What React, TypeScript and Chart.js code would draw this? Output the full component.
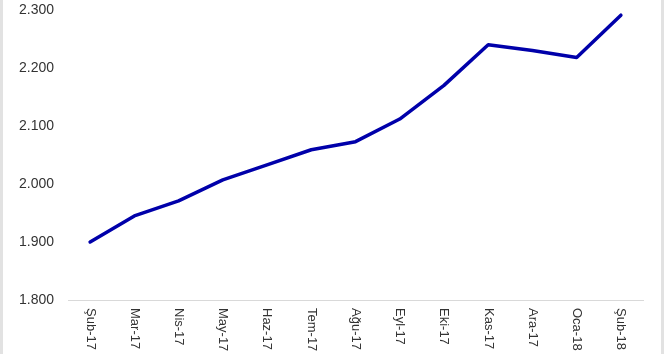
import React, { useEffect, useRef } from "react";
import { Chart, registerables } from "chart.js";

Chart.register(...registerables);

const categories = [
  "Şub-17", "Mar-17", "Nis-17", "May-17", "Haz-17", "Tem-17", "Ağu-17",
  "Eyl-17", "Eki-17", "Kas-17", "Ara-17", "Oca-18", "Şub-18",
];
const values = [1900, 1945, 1971, 2007, 2033, 2059, 2073, 2112, 2170, 2240, 2230, 2218, 2291];
const yMin = 1800;
const yMax = 2300;
const yStep = 100;

function fmt(v: number): string {
  const s = Math.round(v).toString();
  return s.replace(/\B(?=(\d{3})+(?!\d))/g, ".");
}

export default function App() {
  const ref = useRef<HTMLCanvasElement | null>(null);
  useEffect(() => {
    if (!ref.current) return;
    const framePlugin = {
      id: "frame",
      beforeDraw(chart: any) {
        const ctx = chart.ctx;
        ctx.save();
        ctx.fillStyle = "#ffffff";
        ctx.fillRect(0, 0, chart.width, chart.height);
        ctx.fillStyle = "#e2e2e2";
        ctx.fillRect(0, 0, 3, chart.height);
        ctx.fillRect(chart.width - 3, 0, 3, chart.height);
        ctx.restore();
      },
    };
    const xLabelPlugin = {
      id: "xlabels",
      afterDraw(chart: any) {
        const ctx = chart.ctx;
        const xs = chart.scales.x;
        ctx.save();
        ctx.font = "13px 'Liberation Sans', Arial, sans-serif";
        ctx.fillStyle = "#333333";
        ctx.textAlign = "left";
        ctx.textBaseline = "middle";
        categories.forEach((lab, i) => {
          const x = xs.getPixelForTick(i);
          ctx.save();
          ctx.translate(x, xs.top + 8);
          ctx.rotate(Math.PI / 2);
          ctx.fillText(lab, 0, 0);
          ctx.restore();
        });
        ctx.restore();
      },
    };
    const chart = new Chart(ref.current, {
      type: "line",
      data: {
        labels: categories,
        datasets: [
          {
            data: values,
            borderColor: "#0000aa",
            borderWidth: 3.5,
            pointRadius: 0,
            tension: 0,
            borderJoinStyle: "round",
            borderCapStyle: "round",
            fill: false,
          },
        ],
      },
      options: {
        animation: false,
        responsive: false,
        maintainAspectRatio: false,
        layout: { padding: { top: 10, right: 21, bottom: 0, left: 0 } },
        plugins: { legend: { display: false }, tooltip: { enabled: false } },
        scales: {
          x: {
            offset: true,
            grid: { display: false, drawTicks: false },
            border: { display: true, color: "#d9d9d9", width: 1 },
            ticks: { display: false },
            afterFit(scale: any) {
              scale.height = 54;
            },
          },
          y: {
            min: yMin,
            max: yMax,
            grid: { display: false, drawTicks: false },
            border: { display: false },
            ticks: {
              stepSize: yStep,
              padding: 14,
              color: "#333333",
              font: { family: "'Liberation Sans', Arial, sans-serif", size: 14 },
              callback: (v: any) => fmt(Number(v)),
            },
            afterFit(scale: any) {
              scale.width = 68;
              scale.paddingTop = 0;
              scale.paddingBottom = 0;
            },
          },
        },
      },
      plugins: [framePlugin, xLabelPlugin],
    } as any);
    return () => chart.destroy();
  }, []);
  return (
    <div style={{ position: "fixed", left: 0, top: 0, width: 664, height: 354, background: "#fff" }}>
      <canvas ref={ref} width={664} height={354} style={{ display: "block", width: 664, height: 354 }} />
    </div>
  );
}
